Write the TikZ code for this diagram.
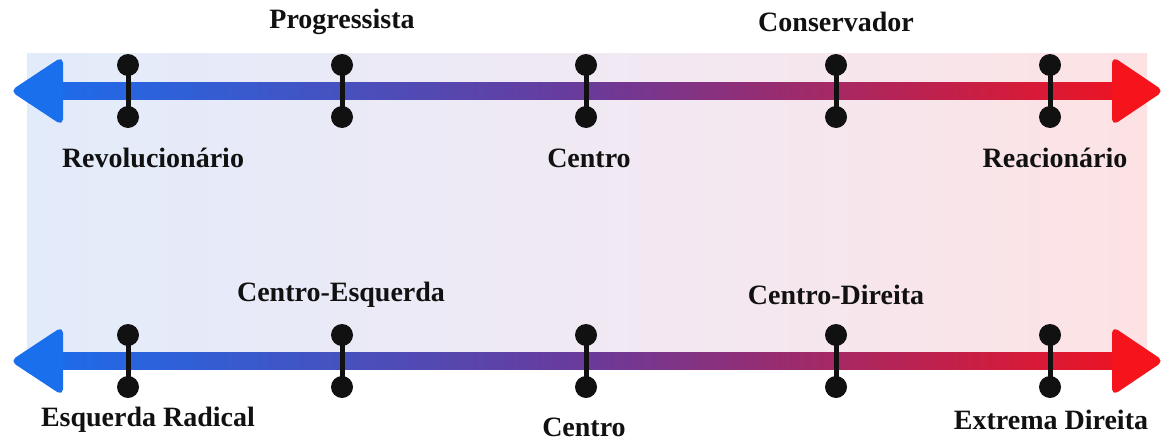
\documentclass[tikz,border=0pt]{standalone}
\usepackage{fontspec}
\setmainfont{Liberation Serif}
\usetikzlibrary{calc}
\definecolor{bgL}{HTML}{E2EBFA}
\definecolor{bgM}{HTML}{F0E9F4}
\definecolor{bgR}{HTML}{FDE2E4}
\definecolor{barL}{HTML}{1E6BEA}
\definecolor{barM}{HTML}{6A3A9A}
\definecolor{barR}{HTML}{EC1424}
\definecolor{headL}{HTML}{1A70EC}
\definecolor{headR}{HTML}{F5141C}
\definecolor{ink}{HTML}{111111}
\tikzset{
  lbl/.style={font=\fontsize{28}{30}\selectfont\bfseries, text=ink, inner sep=0pt},
  dot/.style={circle, fill=ink, minimum size=22pt, inner sep=0pt},
  stem/.style={draw=ink, line width=5pt},
  bar/.style={left color=barL, right color=barR, middle color=barM},
  headl/.style={fill=headL, draw=headL, line width=2pt, rounded corners=5pt, line join=round},
  headr/.style={fill=headR, draw=headR, line width=2pt, rounded corners=5pt, line join=round},
}
\begin{document}
\begin{tikzpicture}[x=1pt,y=-1pt]
\useasboundingbox (0,0) rectangle (1164,442);
% background
\shade[left color=bgL, right color=bgR, middle color=bgM] (27,53) rectangle (1147,361);
% rows
\foreach \r/\yy in {t/91, b/361}{
  \shade[bar] (55,\yy-8.5) rectangle (1120,\yy+8.5);
  \filldraw[headl] (12,\yy) -- (62,\yy-33) -- (62,\yy+33) -- cycle;
  \filldraw[headr] (1162,\yy) -- (1113,\yy-33) -- (1113,\yy+33) -- cycle;
  \foreach \i/\xx in {1/128, 2/342, 3/586, 4/836, 5/1050}{
    \node[dot] (\r\i u) at (\xx,\yy-26) {};
    \node[dot] (\r\i d) at (\xx,\yy+26) {};
    \draw[stem] (\r\i u.center) -- (\r\i d.center);
  }
}
% top labels
\node[lbl] (prog) at (342,22) {Progressista};
\node[lbl] (cons) at (836,22) {Conservador};
\node[lbl] (rev) at (153,158) {Revolucionário};
\node[lbl] (cen1) at (589,158) {Centro};
\node[lbl] (rea) at (1055,158) {Reacionário};
% bottom labels
\node[lbl] (ce) at (341,295) {Centro-Esquerda};
\node[lbl] (cd) at (836,295) {Centro-Direita};
\node[lbl] (er) at (148,420) {Esquerda Radical};
\node[lbl] (cen2) at (584,427) {Centro};
\node[lbl] (ed) at (1051,420) {Extrema Direita};
\end{tikzpicture}
\end{document}
